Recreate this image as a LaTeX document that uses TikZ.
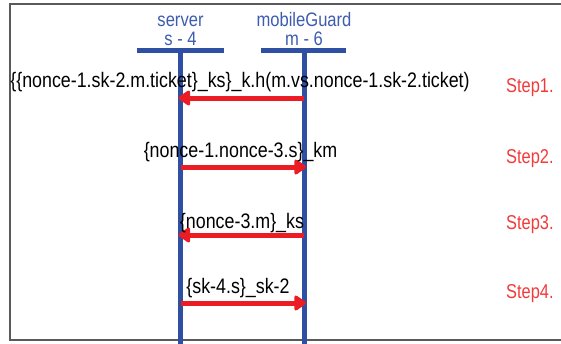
\documentclass[tikz,border=0pt]{standalone}
\usepackage{fontspec}
\setmainfont{Liberation Sans}
\usepackage{graphicx}
\usetikzlibrary{arrows.meta}

\definecolor{lifeblue}{HTML}{2F4FA3}
\definecolor{headblue}{HTML}{3D5CB0}
\definecolor{msgred}{HTML}{EC1C24}
\definecolor{steptxt}{HTML}{F23A3A}
\definecolor{framegray}{HTML}{5A5A5A}

% condensed text, as set by the drawing tool
\newcommand{\narrowtxt}[2][0.85]{\scalebox{#1}[1]{#2}}

\tikzset{
  headtxt/.style={text=headblue, inner sep=0pt, anchor=base,
    font=\fontsize{19.5}{22}\selectfont},
  msgtxt/.style={text=black, inner sep=0pt, anchor=base,
    font=\fontsize{21}{24}\selectfont},
  steplbl/.style={text=steptxt, inner sep=0pt, anchor=base west,
    font=\fontsize{20}{24}\selectfont},
  headbar/.style={draw=lifeblue, line width=5pt},
  lifeline/.style={draw=lifeblue, line width=5pt},
  msg/.style={draw=msgred, line width=5pt, shorten >=-2pt,
    -{Triangle[length=13pt,width=17pt,round]}},
}

\begin{document}
\begin{tikzpicture}[x=1pt,y=-1pt]
  \useasboundingbox (0,0) rectangle (561,343);
  \clip (0,0) rectangle (561,343);

  % outer frame (open to the right)
  \draw[framegray, line width=2.2pt] (10,4) rectangle (620,340);

  % participants
  \node[headtxt] (srvname) at (180.5,26) {\narrowtxt{server}};
  \node[headtxt] (srvid)   at (180.5,45) {\narrowtxt{s - 4}};
  \node[headtxt] (mgname)  at (304,26)   {\narrowtxt{mobileGuard}};
  \node[headtxt] (mgid)    at (304,45)   {\narrowtxt{m - 6}};

  \coordinate (srvtop) at (180.5,50.5);
  \coordinate (srvbot) at (180.5,345);
  \coordinate (mgtop)  at (304,50.5);
  \coordinate (mgbot)  at (304,345);

  \draw[headbar] (137,50.5) -- (224,50.5);
  \draw[headbar] (261,50.5) -- (346,50.5);
  \draw[lifeline] (srvtop) -- (srvbot);
  \draw[lifeline] (mgtop) -- (mgbot);

  % message end points on the lifelines
  \coordinate (s1) at (srvtop |- 0,98);
  \coordinate (m1) at (mgtop  |- 0,98);
  \coordinate (s2) at (srvtop |- 0,167);
  \coordinate (m2) at (mgtop  |- 0,167);
  \coordinate (s3) at (srvtop |- 0,235);
  \coordinate (m3) at (mgtop  |- 0,235);
  \coordinate (s4) at (srvtop |- 0,303);
  \coordinate (m4) at (mgtop  |- 0,303);

  % messages
  \draw[msg] (m1) -- (s1);
  \draw[msg] (s2) -- (m2);
  \draw[msg] (m3) -- (s3);
  \draw[msg] (s4) -- (m4);

  \node[msgtxt] (t1) at (240,87)  {\narrowtxt{\{\{nonce-1.sk-2.m.ticket\}\_ks\}\_k.h(m.vs.nonce-1.sk-2.ticket)}};
  \node[msgtxt] (t2) at (240.5,157) {\narrowtxt{\{nonce-1.nonce-3.s\}\_km}};
  \node[msgtxt] (t3) at (242,228) {\narrowtxt{\{nonce-3.m\}\_ks}};
  \node[msgtxt] (t4) at (238,293) {\narrowtxt{\{sk-4.s\}\_sk-2}};

  % step labels
  \node[steplbl] (st1) at (506,92)  {\narrowtxt[0.82]{Step1.}};
  \node[steplbl] (st2) at (506,163) {\narrowtxt[0.82]{Step2.}};
  \node[steplbl] (st3) at (506,229) {\narrowtxt[0.82]{Step3.}};
  \node[steplbl] (st4) at (506,298) {\narrowtxt[0.82]{Step4.}};
\end{tikzpicture}
\end{document}
